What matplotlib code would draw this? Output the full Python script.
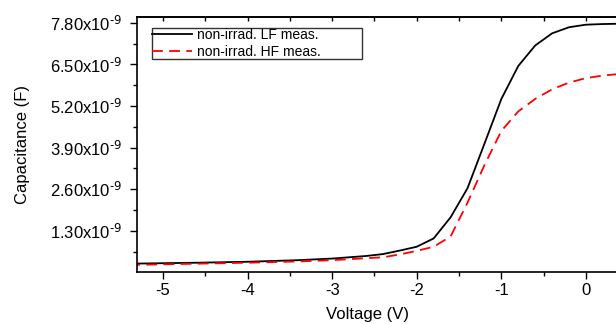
import numpy as np
import matplotlib.pyplot as plt
from matplotlib.ticker import FixedLocator, FuncFormatter

plt.rcParams['font.family'] = ['Liberation Sans', 'DejaVu Sans']
plt.rcParams['mathtext.default'] = 'regular'
plt.rcParams['axes.unicode_minus'] = False

# datos (C en F)
v_lf = [-5.4, -4.6, -4.0, -3.4, -3.0, -2.6, -2.4, -2.2, -2.0, -1.8, -1.6, -1.4, -1.2,
        -1.0, -0.8, -0.6, -0.4, -0.2, 0.0, 0.2, 0.4]
c_lf = [0.27, 0.30, 0.33, 0.38, 0.43, 0.51, 0.57, 0.68, 0.80, 1.06, 1.72, 2.63, 4.02,
        5.42, 6.45, 7.09, 7.47, 7.66, 7.74, 7.76, 7.77]

v_hf = [-5.4, -4.6, -4.0, -3.4, -3.0, -2.6, -2.4, -2.2, -2.0, -1.8, -1.6, -1.4, -1.2,
        -1.0, -0.8, -0.6, -0.4, -0.2, 0.0, 0.2, 0.4]
c_hf = [0.23, 0.27, 0.30, 0.34, 0.38, 0.44, 0.47, 0.56, 0.67, 0.80, 1.12, 2.18, 3.35,
        4.42, 5.03, 5.42, 5.72, 5.93, 6.07, 6.15, 6.20]

y_ticks = [1.30, 2.60, 3.90, 5.20, 6.50, 7.80]
x_ticks = [-5, -4, -3, -2, -1, 0]

c_lf = np.array(c_lf) * 1e-9
c_hf = np.array(c_hf) * 1e-9

fig = plt.figure(figsize=(6.16, 3.24), dpi=100)
ax = fig.add_axes([137/616, 1 - 272/324, 479/616, 255/324])

ax.plot(v_lf, c_lf, color='black', lw=1.3, label='non-irrad. LF meas.')
ax.plot(v_hf, c_hf, color='red', lw=1.3, ls=(0, (6, 3.5)), label='non-irrad. HF meas.')

ax.set_xlim(-5.307, 0.355)
ax.set_ylim(0.01e-9, 7.98e-9)

ax.xaxis.set_major_locator(FixedLocator(x_ticks))
ax.xaxis.set_minor_locator(FixedLocator([t + 0.5 for t in x_ticks]))
ax.yaxis.set_major_locator(FixedLocator([t * 1e-9 for t in y_ticks]))
ax.yaxis.set_minor_locator(FixedLocator([(t - 0.65) * 1e-9 for t in y_ticks]))
ax.yaxis.set_major_formatter(FuncFormatter(lambda v, p: f"{v*1e9:.2f}x10$^{{\\text{{-9}}}}$"))

ax.tick_params(which='both', direction='out', labelsize=12, width=1.0)
ax.tick_params(axis='x', which='major', length=5, pad=3)
ax.tick_params(axis='x', which='minor', length=3)
ax.tick_params(axis='y', which='major', length=5, pad=6)
ax.tick_params(axis='y', which='minor', length=3)

top = ax.secondary_xaxis('top')
top.xaxis.set_major_locator(FixedLocator(np.arange(-5.5, 0.5, 0.5)))
top.tick_params(direction='in', length=3, labeltop=False, width=1.0)

for s in ax.spines.values():
    s.set_linewidth(1.2)
top.spines['top'].set_linewidth(1.2)
ax.spines['right'].set_visible(False)

ax.set_xlabel('Voltage (V)', fontsize=12)
ax.set_ylabel('Capacitance (F)', fontsize=12)
ax.xaxis.set_label_coords((367 - 137) / 479, (272 - 315) / 255)
ax.yaxis.set_label_coords((22.5 - 137) / 479, 0.5)
ax.xaxis.label.set_va('center')
ax.yaxis.label.set_va('center')

leg = ax.legend(loc='upper left', bbox_to_anchor=(15/479, (272-28)/255, 210/479, 0),
                mode='expand', borderaxespad=0,
                fontsize=10, frameon=True, fancybox=False, handlelength=2.9,
                labelspacing=0.2, borderpad=0.0, handletextpad=0.35)
leg.get_frame().set_edgecolor('black')
leg.get_frame().set_linewidth(1.0)

plt.savefig('out.png', dpi=100)
